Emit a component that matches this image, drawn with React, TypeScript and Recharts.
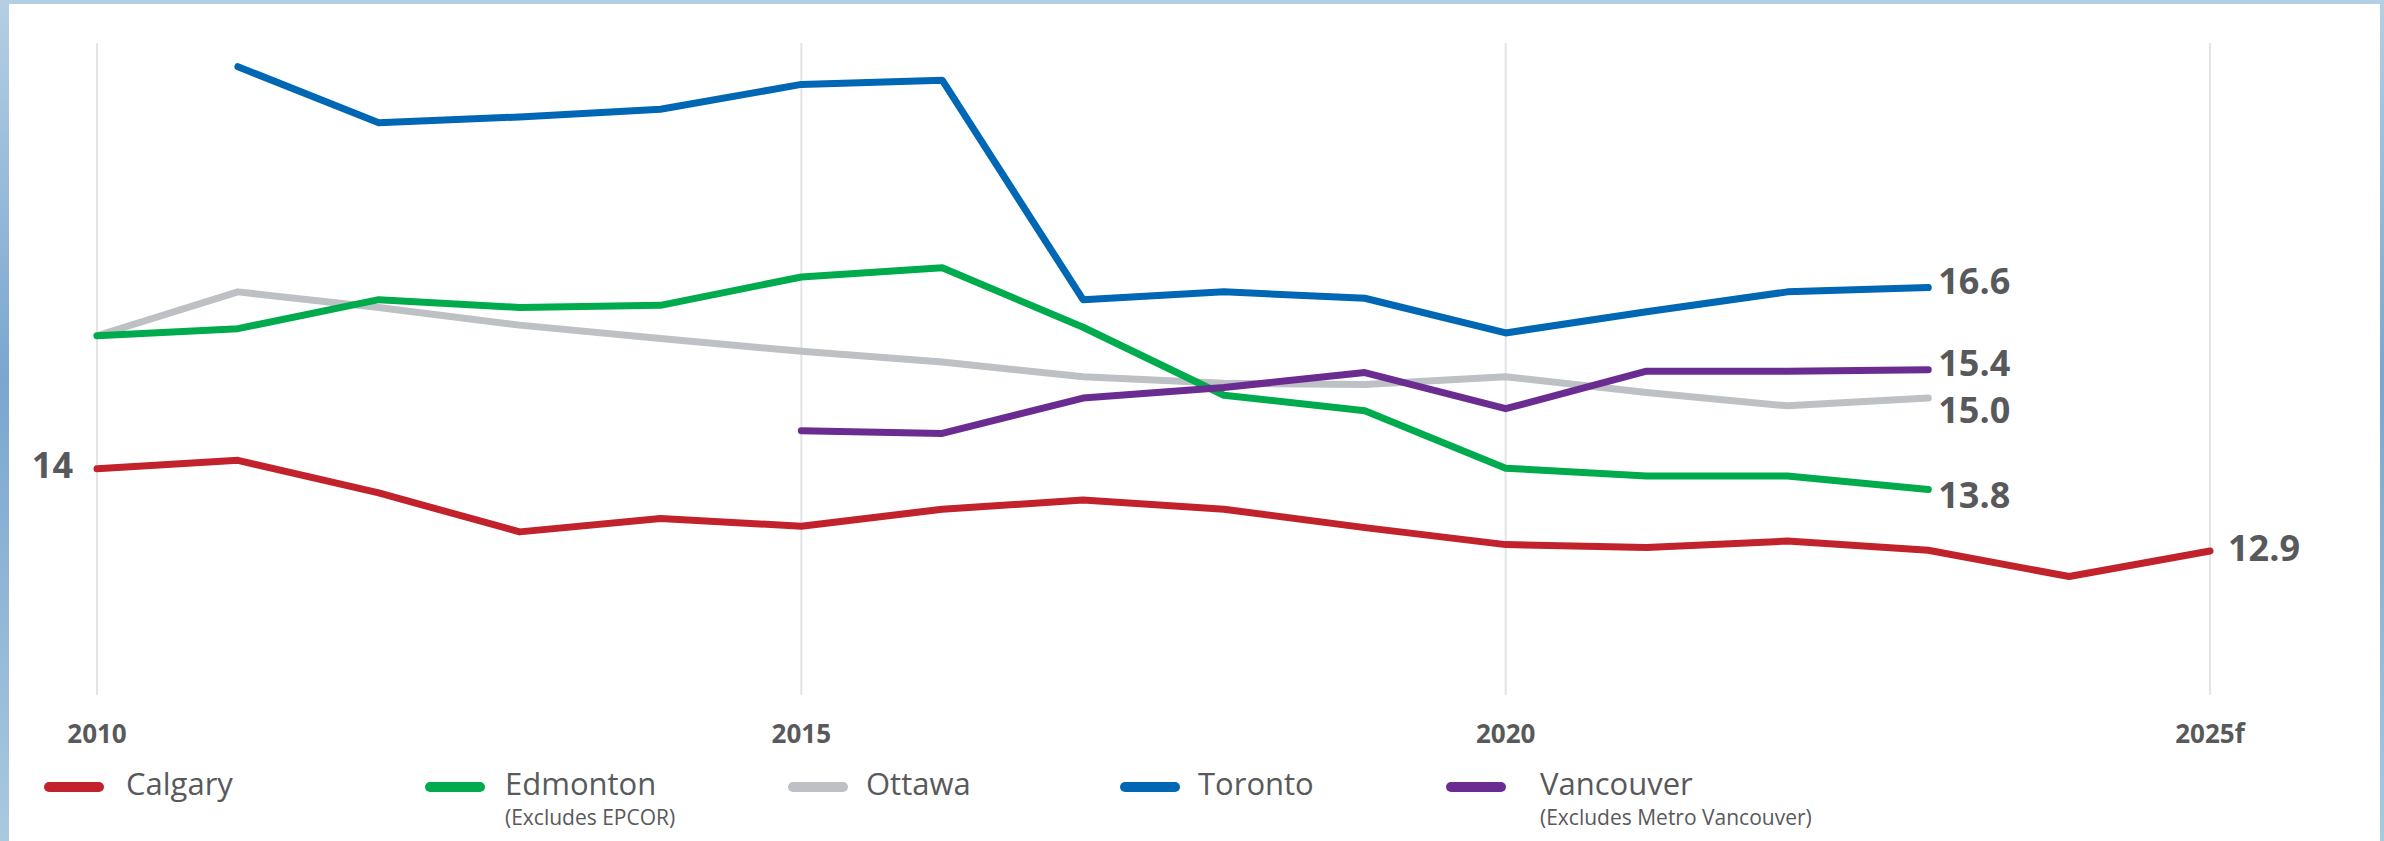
import React from 'react';
import { LineChart, Line, XAxis, YAxis, CartesianGrid } from 'recharts';

const years = [2010, 2011, 2012, 2013, 2014, 2015, 2016, 2017, 2018, 2019, 2020, 2021, 2022, 2023, 2024, 2025];
const calgary = [14.06, 14.18, 13.72, 13.17, 13.36, 13.25, 13.49, 13.62, 13.49, 13.23, 12.99, 12.95, 13.04, 12.91, 12.54, 12.9];
const edmonton = [15.94, 16.04, 16.45, 16.34, 16.37, 16.77, 16.9, 16.06, 15.1, 14.88, 14.07, 13.96, 13.96, 13.77, null, null];
const ottawa = [15.94, 16.56, 16.34, 16.09, 15.9, 15.72, 15.57, 15.36, 15.27, 15.25, 15.36, 15.14, 14.95, 15.06, null, null];
const toronto = [null, 19.74, 18.95, 19.03, 19.14, 19.49, 19.55, 16.45, 16.56, 16.47, 15.98, 16.28, 16.56, 16.62, null, null];
const vancouver = [null, null, null, null, null, 14.6, 14.56, 15.06, 15.21, 15.42, 14.91, 15.44, 15.44, 15.46, null, null];

const xTicks = [2010, 2015, 2020, 2025];
const xTickLabels = ['2010', '2015', '2020', '2025f'];

const seriesNames = ['Calgary', 'Edmonton', 'Ottawa', 'Toronto', 'Vancouver'];
const seriesNotes = ['', '(Excludes EPCOR)', '', '', '(Excludes Metro Vancouver)'];
const seriesColors = ['#C1222B', '#00AB4E', '#BDC1C5', '#0067B4', '#6B2C91'];

// value labels shown on the lines: index -> text
const calgaryLabels: Record<number, string> = { 0: '14', 15: '12.9' };
const edmontonLabels: Record<number, string> = { 13: '13.8' };
const ottawaLabels: Record<number, string> = { 13: '15.0' };
const torontoLabels: Record<number, string> = { 13: '16.6' };
const vancouverLabels: Record<number, string> = { 13: '15.4' };

const data = years.map((year, i) => ({
  year,
  Calgary: calgary[i],
  Edmonton: edmonton[i],
  Ottawa: ottawa[i],
  Toronto: toronto[i],
  Vancouver: vancouver[i],
}));

const TEXT = '#58595B';
const FONT = "'Open Sans', 'Noto Sans', sans-serif";

// label style offsets (styling only)
const labelOffsets: Record<string, Record<number, { dx: number; dy: number; anchor: string }>> = {
  Calgary: { 0: { dx: -24, dy: -4, anchor: 'end' }, 15: { dx: 18, dy: -3, anchor: 'start' } },
  Edmonton: { 13: { dx: 10, dy: 5, anchor: 'start' } },
  Ottawa: { 13: { dx: 10, dy: 11, anchor: 'start' } },
  Toronto: { 13: { dx: 10, dy: -7, anchor: 'start' } },
  Vancouver: { 13: { dx: 10, dy: -7, anchor: 'start' } },
};

const makeLabel = (name: string, texts: Record<number, string>) => (props: any) => {
  const { x, y, index } = props;
  const t = texts[index];
  if (t === undefined || x == null || y == null || isNaN(y)) return null;
  const o = labelOffsets[name][index];
  return (
    <text
      key={`${name}-${index}`}
      x={x + o.dx}
      y={y + o.dy}
      textAnchor={o.anchor as any}
      dominantBaseline="central"
      fontFamily={FONT}
      fontWeight={700}
      fontSize={36}
      fill={TEXT}
    >
      {t}
    </text>
  );
};

const XTick = (props: any) => {
  const { x, y, payload } = props;
  const i = xTicks.indexOf(payload.value);
  return (
    <text x={x} y={y} textAnchor="middle" dominantBaseline="central" fontFamily={FONT} fontWeight={700} fontSize={26} fill={TEXT}>
      {xTickLabels[i]}
    </text>
  );
};

const legendPos = [
  { sx: 44, tx: 126 },
  { sx: 425, tx: 505 },
  { sx: 788, tx: 866 },
  { sx: 1120, tx: 1198 },
  { sx: 1446, tx: 1540 },
];

const Legend = () => (
  <svg width={2384} height={841} style={{ position: 'absolute', left: 0, top: 0, pointerEvents: 'none' }}>
    {seriesNames.map((n, i) => (
      <g key={n}>
        <line x1={legendPos[i].sx + 5} x2={legendPos[i].sx + 55} y1={787} y2={787} stroke={seriesColors[i]} strokeWidth={10} strokeLinecap="round" />
        <text x={legendPos[i].tx} y={783} dominantBaseline="central" fontFamily={FONT} fontSize={31} fill={TEXT}>
          {n}
        </text>
        {seriesNotes[i] ? (
          <text x={legendPos[i].tx} y={817} dominantBaseline="central" fontFamily={FONT} fontSize={21} fill={TEXT}>
            {seriesNotes[i]}
          </text>
        ) : null}
      </g>
    ))}
  </svg>
);

export default function App() {
  const lineProps = {
    type: 'linear' as const,
    strokeWidth: 7,
    dot: false,
    activeDot: false,
    isAnimationActive: false,
    strokeLinecap: 'round' as const,
    strokeLinejoin: 'round' as const,
    connectNulls: false,
  };
  return (
    <div
      style={{
        position: 'absolute',
        left: 0,
        top: 0,
        width: 2384,
        height: 841,
        background: 'linear-gradient(to bottom, #b4cfe4 0%, #7aa6cf 45%, #a9c9df 100%)',
      }}
    >
      <div style={{ position: 'absolute', left: 9, top: 4, width: 2371, height: 837, background: '#ffffff' }} />
      <div style={{ position: 'absolute', left: 0, top: 0 }}>
        <LineChart width={2384} height={841} data={data} margin={{ top: 43, right: 174, bottom: 96, left: 97 }}>
          <CartesianGrid vertical horizontal={false} stroke="#E2E4E6" strokeWidth={2} />
          <XAxis
            dataKey="year"
            type="number"
            domain={[2010, 2025]}
            ticks={xTicks}
            interval={0}
            axisLine={false}
            tickLine={false}
            tickSize={0}
            tickMargin={38}
            height={50}
            tick={<XTick />}
          />
          <YAxis hide type="number" domain={[10.866, 20.075]} allowDataOverflow />
          <Line {...lineProps} dataKey="Ottawa" stroke={seriesColors[2]} label={makeLabel('Ottawa', ottawaLabels)} />
          <Line {...lineProps} dataKey="Edmonton" stroke={seriesColors[1]} label={makeLabel('Edmonton', edmontonLabels)} />
          <Line {...lineProps} dataKey="Calgary" stroke={seriesColors[0]} label={makeLabel('Calgary', calgaryLabels)} />
          <Line {...lineProps} dataKey="Vancouver" stroke={seriesColors[4]} label={makeLabel('Vancouver', vancouverLabels)} />
          <Line {...lineProps} dataKey="Toronto" stroke={seriesColors[3]} label={makeLabel('Toronto', torontoLabels)} />
        </LineChart>
      </div>
      <Legend />
    </div>
  );
}
